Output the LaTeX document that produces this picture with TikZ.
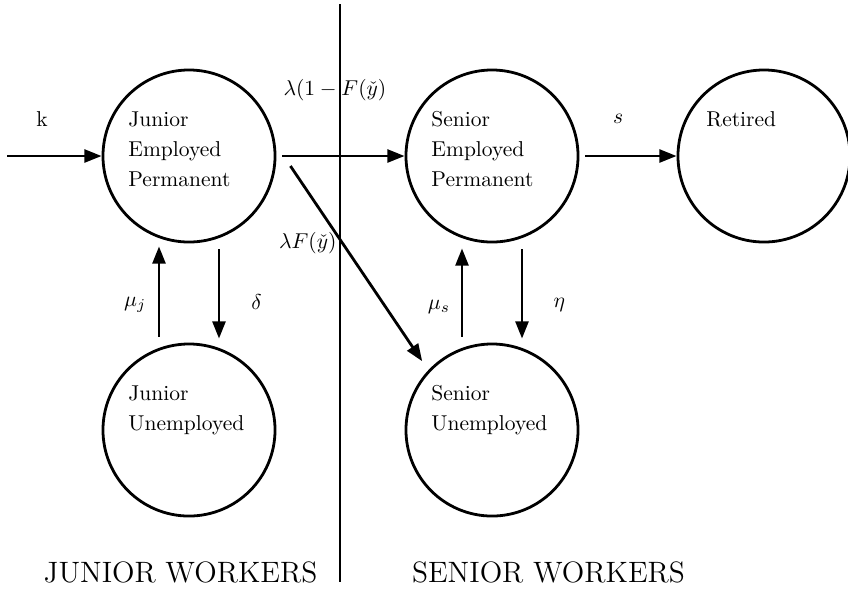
\documentclass[tikz,border=0pt]{standalone}
\usepackage{tikz}
\usetikzlibrary{arrows.meta, positioning}
\usepackage{amsmath, amssymb}
\tikzset{
    statecircle/.style={draw, circle, line width=1.3pt, minimum size=80pt, inner sep=0pt},
    statetext/.style={anchor=north west, align=left, inner sep=0pt, font=\fontsize{10}{14}\selectfont},
    flowarrow/.style={-{Triangle[length=8pt, width=6pt]}, line width=1.3pt},
    ratelabel/.style={inner sep=0pt, font=\fontsize{10}{12}\selectfont},
    grouplabel/.style={anchor=base, inner sep=0pt, font=\fontsize{13.7}{16}\selectfont},
    divider/.style={line width=1.3pt},
}

\begin{document}
\begin{tikzpicture}[x=0.465pt, y=-0.465pt]
    \useasboundingbox (0,0) rectangle (848,588);

    % States
    \node[statecircle] (je) at (189,156) {};
    \node[statecircle] (se) at (492,156) {};
    \node[statecircle] (rt) at (764,156) {};
    \node[statecircle] (ju) at (189,430) {};
    \node[statecircle] (su) at (492,430) {};

    % State texts (first line sits 30px above the centre)
    \node[statetext] (jetxt) at ([shift={(-61,-45)}]je.center) {Junior\\Employed\\Permanent};
    \node[statetext] (setxt) at ([shift={(-61,-45)}]se.center) {Senior\\Employed\\Permanent};
    \node[statetext] (rttxt) at ([shift={(-58,-45)}]rt.center) {Retired};
    \node[statetext] (jutxt) at ([shift={(-61,-45)}]ju.center) {Junior\\Unemployed};
    \node[statetext] (sutxt) at ([shift={(-61,-45)}]su.center) {Senior\\Unemployed};

    % Divider between the two groups
    \coordinate (divtop) at (340,4);
    \coordinate (divbot) at (340,582);
    \draw[divider] (divtop) -- (divbot);

    % Inflow
    \coordinate (kin) at (7,156);
    \draw[flowarrow] (kin) -- node[ratelabel, pos=0.37, above=13.3pt] (klab) {k} (je.west);

    % Promotion
    \draw[flowarrow] ([shift={(6,0)}]je.east) -- node[ratelabel, pos=0.43, above=25.1pt] (promlab) {$\lambda(1-F(\check{y})$} (se.west);
    \draw[flowarrow] ([shift={(14,10)}]je.east) -- node[ratelabel, pos=0.393, left=2pt] (droplab) {$\lambda F(\check{y})$} ([shift={(-8,-7)}]su.north west);

    % Retirement
    \draw[flowarrow] ([shift={(6,0)}]se.east) -- node[ratelabel, pos=0.36, above=14.6pt] (slab) {$s$} (rt.west);

    % Junior job finding / separation
    \draw[flowarrow] ([shift={(-30,-6)}]ju.north) -- node[ratelabel, pos=0.355, left=5.3pt] (mujlab) {$\mu_j$} ([shift={(-30,3)}]je.south);
    \draw[flowarrow] ([shift={(30,6)}]je.south) -- node[ratelabel, pos=0.59, right=14.4pt] (deltalab) {$\delta$} ([shift={(30,-4)}]ju.north);

    % Senior job finding / separation
    \draw[flowarrow] ([shift={(-30,-6)}]su.north) -- node[ratelabel, pos=0.34, left=4.9pt] (muslab) {$\mu_s$} ([shift={(-30,5)}]se.south);
    \draw[flowarrow] ([shift={(30,6)}]se.south) -- node[ratelabel, pos=0.62, right=14pt] (etalab) {$\eta$} ([shift={(30,-4)}]su.north);

    % Groups
    \node[grouplabel] (juniorlab) at (180.5,582) {JUNIOR WORKERS};
    \node[grouplabel] (seniorlab) at (548.5,582) {SENIOR WORKERS};
\end{tikzpicture}
\end{document}
